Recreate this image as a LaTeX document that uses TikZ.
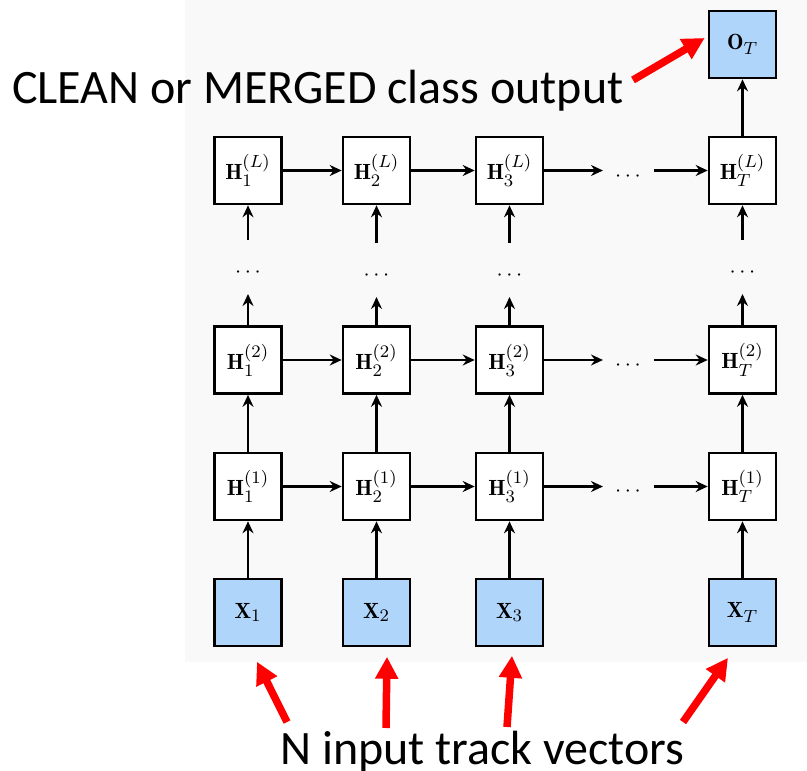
\RequirePackage{fix-cm}
\documentclass[tikz,border=0pt]{standalone}
\usepackage{fontspec}
\newfontfamily\calib{Carlito}
\usetikzlibrary{arrows.meta,calc}
\DeclareMathSizes{11}{11}{8.8}{6.6}
\newcommand\mlab[1]{\scalebox{2.0}{\fontsize{11}{13}\selectfont$#1$}}
\definecolor{bg}{RGB}{249,249,249}
\definecolor{boxblue}{RGB}{175,213,251}
\begin{document}
\begin{tikzpicture}[x=1pt,y=-1pt,
 cell/.style={draw=black, line width=2.6pt, minimum width=67pt, minimum height=67pt, inner sep=0pt, fill=white},
 inbox/.style={cell, fill=boxblue},
 conn/.style={line width=2.2pt, -{Stealth[length=12pt,width=11pt,inset=4pt]}},
 dotsl/.style={inner sep=0pt},
 redarr/.style={draw=red, line width=7.5pt, -{Triangle[length=22pt,width=22pt]}},
 caption/.style={font=\calib\fontsize{48}{52}\selectfont, inner sep=0pt, anchor=base west}
]
\useasboundingbox (0,0) rectangle (807,771);
\fill[bg] (185,0) rectangle (807,662);

% output
\node[inbox] (O) at (742.5,44.5) {\mlab{\mathbf{O}_T}};
% layer L
\node[cell] (HL1) at (248,170.5) {\mlab{\mathbf{H}_1^{(L)}}};
\node[cell] (HL2) at (376.5,170.5) {\mlab{\mathbf{H}_2^{(L)}}};
\node[cell] (HL3) at (509.5,170.5) {\mlab{\mathbf{H}_3^{(L)}}};
\node[cell] (HLT) at (742.5,170.5) {\mlab{\mathbf{H}_T^{(L)}}};
% layer 2
\node[cell] (H21) at (248,360) {\mlab{\mathbf{H}_1^{(2)}}};
\node[cell] (H22) at (376.5,360) {\mlab{\mathbf{H}_2^{(2)}}};
\node[cell] (H23) at (509.5,360) {\mlab{\mathbf{H}_3^{(2)}}};
\node[cell] (H2T) at (742.5,360) {\mlab{\mathbf{H}_T^{(2)}}};
% layer 1
\node[cell] (H11) at (248,486.5) {\mlab{\mathbf{H}_1^{(1)}}};
\node[cell] (H12) at (376.5,486.5) {\mlab{\mathbf{H}_2^{(1)}}};
\node[cell] (H13) at (509.5,486.5) {\mlab{\mathbf{H}_3^{(1)}}};
\node[cell] (H1T) at (742.5,486.5) {\mlab{\mathbf{H}_T^{(1)}}};
% inputs
\node[inbox] (X1) at (248,612.5) {\mlab{\mathbf{X}_1}};
\node[inbox] (X2) at (376.5,612.5) {\mlab{\mathbf{X}_2}};
\node[inbox] (X3) at (509.5,612.5) {\mlab{\mathbf{X}_3}};
\node[inbox] (XT) at (742.5,612.5) {\mlab{\mathbf{X}_T}};

% dots
\node[dotsl] (vd1) at (248,273) {\mlab{\cdots}};
\node[dotsl] (vd2) at (376.5,276) {\mlab{\cdots}};
\node[dotsl] (vd3) at (509.5,276) {\mlab{\cdots}};
\node[dotsl] (vdT) at (742.5,273) {\mlab{\cdots}};
\node[dotsl] (hdL) at (628,177) {\mlab{\cdots}};
\node[dotsl] (hd2) at (628,366) {\mlab{\cdots}};
\node[dotsl] (hd1) at (628,492) {\mlab{\cdots}};

% horizontal connectors
\foreach \r in {L,2,1}{
  \draw[conn] (H\r1) -- (H\r2);
  \draw[conn] (H\r2) -- (H\r3);
  \draw[conn, shorten >=12pt] (H\r3.east) -- (H\r3.east -| hd\r.west);
  \draw[conn, shorten <=13pt] (H\r T.west -| hd\r.east) -- (H\r T.west);
}
% vertical connectors
\foreach \c in {1,2,3,T}{
  \draw[conn] (X\c) -- (H1\c);
  \draw[conn] (H1\c) -- (H2\c);
  \draw[conn, shorten >=21pt] (H2\c.north) -- (H2\c.north |- vd\c.center);
  \draw[conn, shorten <=33pt] (HL\c.south |- vd\c.center) -- (HL\c.south);
}
\draw[conn] (HLT) -- (O);

% captions
\node[caption] (cap1) at (12,103) {CLEAN or MERGED class output};
\node[caption] (cap2) at (280,764) {N input track vectors};

% red arrows
\coordinate (r0) at (633,80);
\coordinate (r1) at (287,722);
\coordinate (r2) at (386,728);
\coordinate (r3) at (507,727);
\coordinate (rT) at (683,722);
\draw[redarr] (r0) -- ($(O.west)+(-3,-6.5)$);
\draw[redarr] (r1) -- ($(X1.south)+(9,14.5)$);
\draw[redarr] (r2) -- ($(X2.south)+(10.5,9.5)$);
\draw[redarr] (r3) -- ($(X3.south)+(2.5,8.5)$);
\draw[redarr] (rT) -- ($(XT.south)+(-14.5,10.5)$);
\end{tikzpicture}
\end{document}
